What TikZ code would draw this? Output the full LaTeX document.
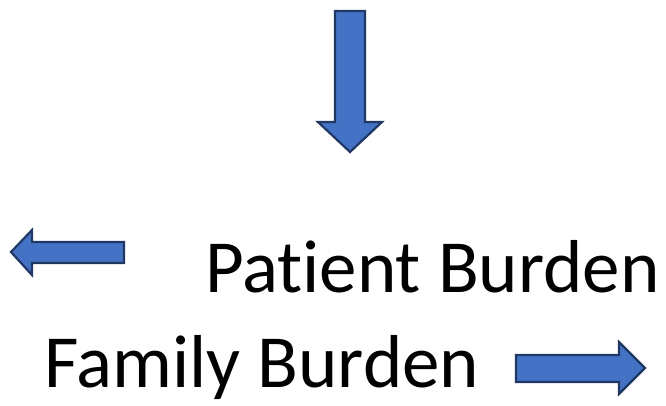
\documentclass[tikz,border=0pt]{standalone}
\usepackage{fontspec}
\setmainfont{Carlito}[RawFeature=-liga]
\definecolor{arrfill}{HTML}{4472C4}
\definecolor{arrline}{HTML}{203864}
\begin{document}
\begin{tikzpicture}[x=1pt,y=-1pt,
  blockarrow/.style={fill=arrfill,draw=arrline,line width=2.2pt,line join=miter},
  label/.style={font=\fontsize{75}{90}\selectfont,inner sep=0pt,anchor=base west}]
\useasboundingbox (0,0) rectangle (666,405);
\fill[white] (0,0) rectangle (666,405);
% down arrow
\draw[blockarrow] (335,11) -- (365,11) -- (365,122) -- (382,122) -- (350,152) -- (318,122) -- (335,122) -- cycle;
% left arrow
\draw[blockarrow] (124,242) -- (124,263) -- (32,263) -- (32,275) -- (11,252) -- (32,230) -- (32,242) -- cycle;
% right arrow
\draw[blockarrow] (516,355) -- (619,355) -- (619,342) -- (645,368) -- (619,394) -- (619,382) -- (516,382) -- cycle;
\node[label] (pb) at (205,292) {Patient Burden};
\node[label] (fb) at (44,387) {Family Burden};
\end{tikzpicture}
\end{document}
